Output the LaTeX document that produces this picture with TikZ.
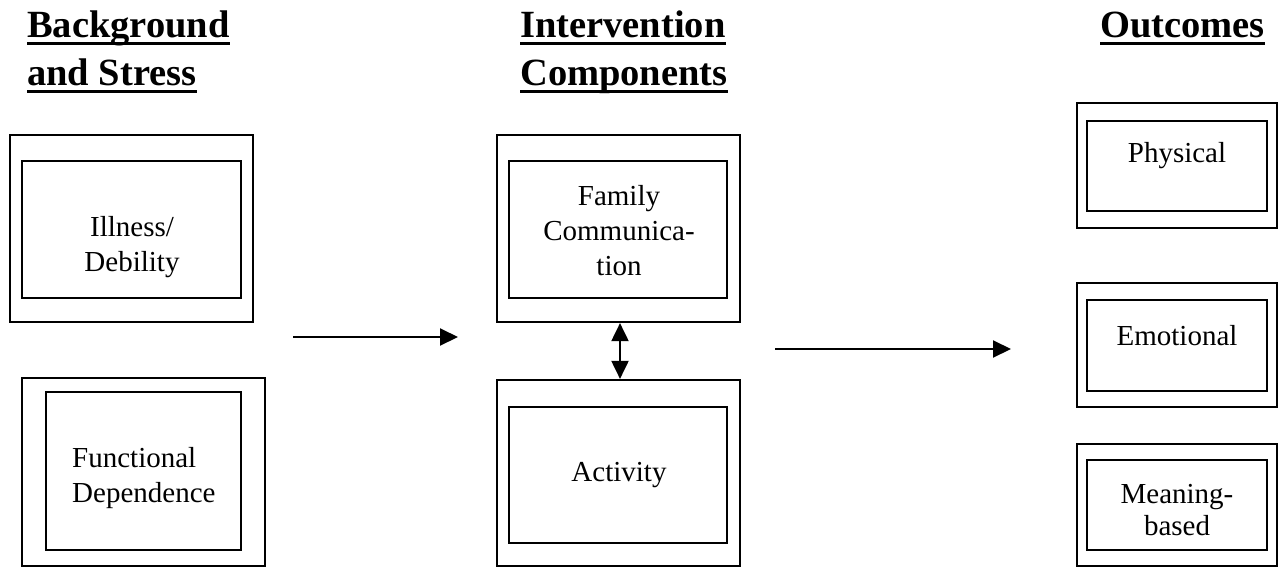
\documentclass[tikz,border=0pt]{standalone}
\usepackage{fontspec}
\setmainfont{Liberation Serif}
\usetikzlibrary{arrows.meta}
\begin{document}
\begin{tikzpicture}[x=1pt,y=-1pt,
  box/.style 2 args={draw,line width=2.2pt,inner sep=0pt,rectangle,minimum width=#1pt,minimum height=#2pt},
  lbl/.style={inner sep=0pt,align=center,font=\fontsize{29}{35}\selectfont},
  ttl/.style={inner sep=0pt,anchor=base west,font=\fontsize{38.5}{48}\selectfont\bfseries},
  uline/.style={line width=3pt},
  arr/.style={line width=2pt,-{Triangle[length=18pt,width=17pt]}},
  darr/.style={line width=2pt,{Triangle[length=18pt,width=17pt]}-{Triangle[length=18pt,width=17pt]}}]
\useasboundingbox (0,0) rectangle (1282,568);
% titles
\node[ttl] (t1a) at (27,37) {Background};
\node[ttl] (t1b) at (27,85) {and Stress};
\node[ttl] (t2a) at (520,37) {Intervention};
\node[ttl] (t2b) at (520,85) {Components};
\node[ttl] (t3a) at (1100,37) {Outcomes};
\foreach \n in {t1a,t1b,t2a,t2b,t3a}
  \draw[uline] ([yshift=-6pt]\n.base west) -- ([yshift=-6pt]\n.base east);
% left column
\node[box={243}{187}] (ill) at (131.5,228.5) {};
\node[box={219}{137}] (illi) at (131.5,229.5) {};
\node[lbl] (l1) at (132,247) {Illness/\\Debility};
\node[box={243}{188}] (fun) at (143.5,472) {};
\node[box={195}{158}] (funi) at (143.5,471) {};
\node[lbl,align=left,anchor=west] (l2) at (72,478) {Functional\\Dependence};
% middle column
\node[box={243}{187}] (fam) at (618.5,228.5) {};
\node[box={218}{137}] (fami) at (618,229.5) {};
\node[lbl] (l3) at (619,231) {Family\\Communica-\\tion};
\node[box={243}{186}] (act) at (618.5,473) {};
\node[box={218}{136}] (acti) at (618,475) {};
\node[lbl] (l4) at (619,475) {Activity};
% right column
\node[box={200}{125}] (phy) at (1177,165.5) {};
\node[box={180}{90}] (phyi) at (1177,166) {};
\node[lbl] (l5) at (1177,156) {Physical};
\node[box={200}{124}] (emo) at (1177,345) {};
\node[box={180}{91}] (emoi) at (1177,345.5) {};
\node[lbl] (l6) at (1177,336) {Emotional};
\node[box={200}{122}] (mea) at (1177,505) {};
\node[box={180}{90}] (meai) at (1177,505) {};
\node[lbl,font=\fontsize{29}{32}\selectfont] (l7) at (1177,510) {Meaning-\\based};
% arrows
\coordinate (a1s) at (293,337);
\coordinate (a1e) at (458,337);
\coordinate (a2s) at (775,349);
\coordinate (a2e) at (1011,349);
\draw[arr] (a1s) -- (a1e);
\draw[arr] (a2s) -- (a2e);
\draw[darr] ([xshift=1.5pt]fam.south) -- ([xshift=1.5pt]act.north);
\end{tikzpicture}
\end{document}
